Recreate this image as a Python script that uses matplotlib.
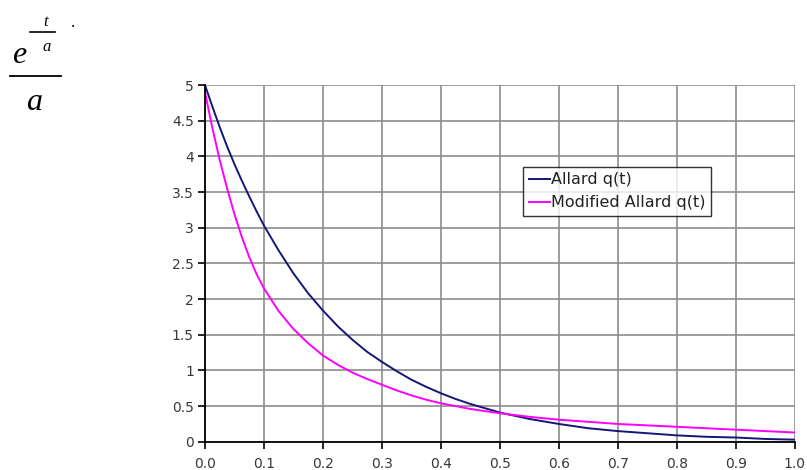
"""Decay of the Allard kernel q(t) and its modified form."""

import matplotlib
matplotlib.use("Agg")
import matplotlib.pyplot as plt

# time grid shared by both curves
t_vals = [0.0, 0.0125, 0.025, 0.0375, 0.05, 0.0625, 0.075, 0.0875, 0.1,
          0.125, 0.15, 0.175, 0.2, 0.225, 0.25, 0.275, 0.3, 0.325, 0.35,
          0.375, 0.4, 0.425, 0.45, 0.475, 0.5, 0.55, 0.6, 0.65, 0.7,
          0.75, 0.8, 0.85, 0.9, 0.95, 1.0]

allard_q = [5.00, 4.70, 4.41, 4.14, 3.89, 3.66, 3.44, 3.23, 3.03,
            2.68, 2.36, 2.08, 1.84, 1.62, 1.43, 1.26, 1.12, 0.99, 0.87,
            0.77, 0.68, 0.60, 0.53, 0.47, 0.41, 0.32, 0.25, 0.19, 0.15,
            0.12, 0.09, 0.07, 0.06, 0.04, 0.03]

modified_q = [4.90, 4.40, 3.95, 3.55, 3.19, 2.87, 2.59, 2.35, 2.15,
              1.83, 1.58, 1.38, 1.21, 1.08, 0.97, 0.88, 0.80, 0.72, 0.65,
              0.59, 0.54, 0.50, 0.46, 0.43, 0.40, 0.35, 0.31, 0.28, 0.25,
              0.23, 0.21, 0.19, 0.17, 0.15, 0.13]

series_labels = ["Allard q(t)", "Modified Allard q(t)"]
x_ticks = [0.0, 0.1, 0.2, 0.3, 0.4, 0.5, 0.6, 0.7, 0.8, 0.9, 1.0]
y_ticks = [0, 0.5, 1, 1.5, 2, 2.5, 3, 3.5, 4, 4.5, 5]
y_tick_labels = ["0", "0.5", "1", "1.5", "2", "2.5", "3", "3.5", "4", "4.5", "5"]

NAVY = "#15157a"
MAGENTA = "#ff00ff"
GRID = "#8c8c8c"
TEXT = "#383838"

plt.rcParams["font.family"] = ["DejaVu Sans"]

fig = plt.figure(figsize=(8.07, 4.70), dpi=100)
ax = fig.add_axes([0.254, 0.060, 0.731, 0.759])

ax.plot(t_vals, allard_q, color=NAVY, lw=1.4, label=series_labels[0],
        solid_joinstyle="round", zorder=3)
ax.plot(t_vals, modified_q, color=MAGENTA, lw=1.4, label=series_labels[1],
        solid_joinstyle="round", zorder=3)

ax.set_xlim(0, 1.0)
ax.set_ylim(0, 5)
ax.set_xticks(x_ticks)
ax.set_xticklabels([f"{v:.1f}" for v in x_ticks])
ax.set_yticks(y_ticks)
ax.set_yticklabels(y_tick_labels)

ax.grid(True, color=GRID, lw=1.2, zorder=1)
ax.set_axisbelow(True)

for side in ("top", "right"):
    ax.spines[side].set_visible(False)
for side in ("left", "bottom"):
    ax.spines[side].set_color("black")
    ax.spines[side].set_linewidth(1.3)
    ax.spines[side].set_zorder(4)

ax.tick_params(axis="both", direction="out", length=5, width=1.2,
               color="black", labelcolor=TEXT, labelsize=10)
ax.tick_params(axis="x", pad=6)
ax.tick_params(axis="y", pad=3)

leg = ax.legend(loc="upper left", bbox_to_anchor=(0.539, 0.771),
                frameon=True, fancybox=False, fontsize=11.5,
                handlelength=1.35, handletextpad=0.08, borderpad=0.35,
                labelspacing=0.5, borderaxespad=0)
leg.get_frame().set_edgecolor("black")
leg.get_frame().set_linewidth(1.0)
for txt in leg.get_texts():
    txt.set_color("#222222")

# formula e^(-t/a) / a in the upper left corner
serif = ["Liberation Serif", "DejaVu Serif"]
fig.text(12 / 807, 1 - 63 / 470, "e", fontsize=23, style="italic",
         family=serif, ha="left", va="baseline")
fig.text(46 / 807, 1 - 26 / 470, "t", fontsize=12, style="italic",
         family=serif, ha="center", va="baseline")
fig.text(47 / 807, 1 - 51 / 470, "a", fontsize=12, style="italic",
         family=serif, ha="center", va="baseline")
fig.text(73 / 807, 1 - 27 / 470, ".", fontsize=12, family=serif,
         ha="center", va="baseline")
fig.text(34 / 807, 1 - 110 / 470, "a", fontsize=23, style="italic",
         family=serif, ha="center", va="baseline")
fig.add_artist(plt.Line2D([30 / 807, 55 / 807], [1 - 32 / 470, 1 - 32 / 470],
                          color="black", lw=1.2, transform=fig.transFigure))
fig.add_artist(plt.Line2D([10 / 807, 61 / 807], [1 - 76 / 470, 1 - 76 / 470],
                          color="black", lw=1.3, transform=fig.transFigure))

fig.savefig("out.png", dpi=100, facecolor="white")
